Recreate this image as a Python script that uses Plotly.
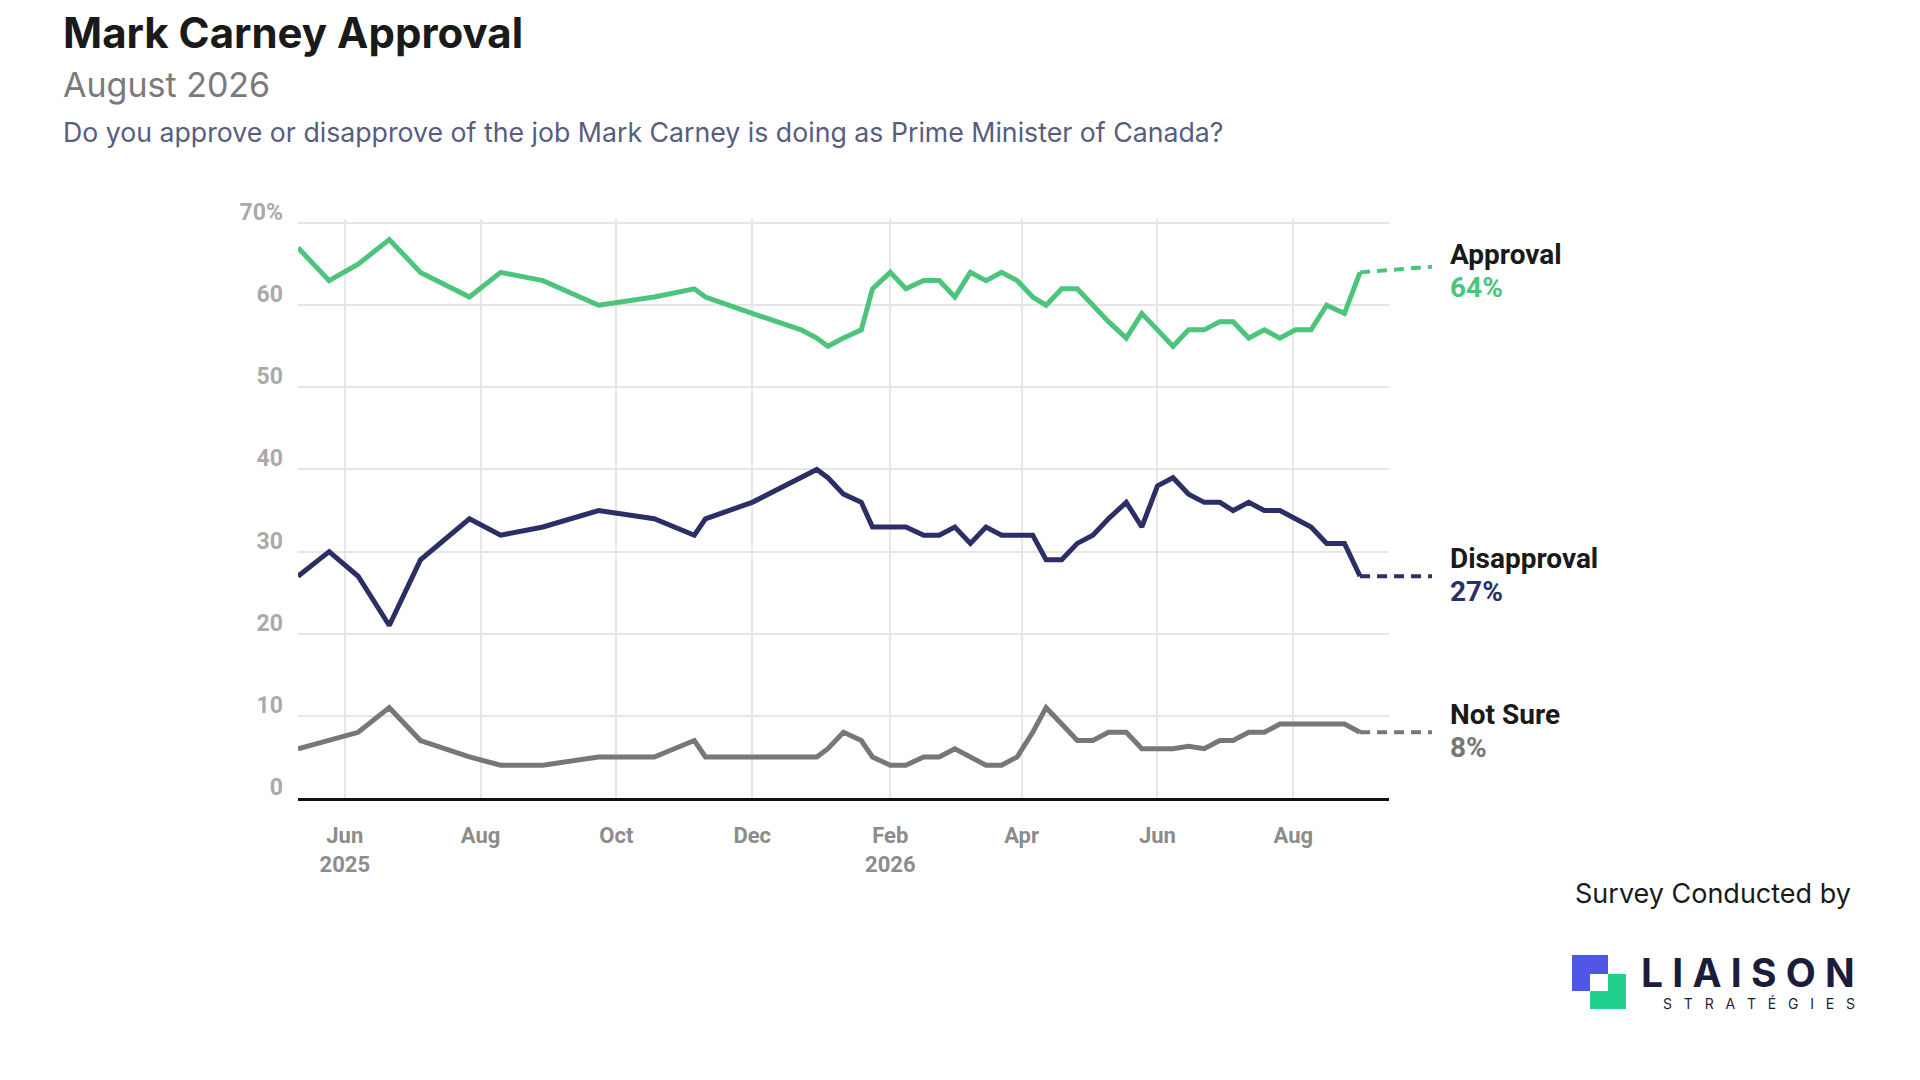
import plotly.graph_objects as go
import pandas as pd

dates = ["2025-05-11","2025-05-25","2025-06-07","2025-06-21","2025-07-05","2025-07-27","2025-08-10","2025-08-29",
         "2025-09-23","2025-10-18","2025-11-05","2025-11-10","2025-12-01","2025-12-23","2025-12-30","2026-01-04",
         "2026-01-11","2026-01-19","2026-01-24","2026-02-01","2026-02-08","2026-02-16","2026-02-23","2026-03-02",
         "2026-03-09","2026-03-16","2026-03-23","2026-03-30","2026-04-06","2026-04-12","2026-04-19","2026-04-26",
         "2026-05-03","2026-05-10","2026-05-18","2026-05-25","2026-06-01","2026-06-08","2026-06-15","2026-06-22",
         "2026-06-29","2026-07-05","2026-07-12","2026-07-19","2026-07-26","2026-08-02","2026-08-09","2026-08-16",
         "2026-08-24","2026-08-31"]
approval = [67,63,65,68,64,61,64,63,60,61,62,61,59,57,56,55,56,57,62,64,62,63,63,61,64,63,64,63,61,60,62,62,
            60,58,56,59,57,55,57,57,58,58,56,57,56,57,57,60,59,64]
disapproval = [27,30,27,21,29,34,32,33,35,34,32,34,36,39,40,39,37,36,33,33,33,32,32,33,31,33,32,32,32,29,29,31,
               32,34,36,33,38,39,37,36,36,35,36,35,35,34,33,31,31,27]
not_sure = [6,7,8,11,7,5,4,4,5,5,7,5,5,5,5,6,8,7,5,4,4,5,5,6,5,4,4,5,8,11,9,7,7,8,8,6,6,6,6.3,6,7,7,8,8,9,9,
            9,9,9,8]
ext_end = [64.7, 27, 8]
tick_dates = ["2025-06-01","2025-08-01","2025-10-01","2025-12-01","2026-02-01","2026-04-01","2026-06-01","2026-08-01"]
tick_text = ["Jun<br>2025","Aug","Oct","Dec","Feb<br>2026","Apr","Jun","Aug"]
y_ticks = [0,10,20,30,40,50,60,70]
y_text = ["0","10","20","30","40","50","60","70%"]
series = [("Approval", approval, "#4cc47c"), ("Disapproval", disapproval, "#2b2f66"), ("Not Sure", not_sure, "#777777")]

W, H = 1920, 1080
L, R, T, B = 290, 1381, 211, 790
EXT = 1424
def px(x): return (x - L) / (EXT - L)
def py(y): return (B - y) / (B - T)

r0 = pd.Timestamp("2025-05-11"); r1 = pd.Timestamp("2026-09-13")
r2 = r0 + (r1 - r0) * ((EXT - L) / (R - L))
YR = [0, 70.5]

fig = go.Figure()
for (name, vals, col), e in zip(series, ext_end):
    fig.add_trace(go.Scatter(x=dates, y=vals, mode="lines", line=dict(color=col, width=5), name=name,
                             hoverinfo="x+y"))
    fig.add_trace(go.Scatter(x=[dates[-1], r2], y=[vals[-1], e], mode="lines", xaxis="x2", yaxis="y2",
                             line=dict(color=col, width=4, dash="10px,7px"), hoverinfo="skip"))
    fig.add_annotation(xref="paper", yref="y", x=px(1440), y=vals[-1] + 2.2, xanchor="left", yanchor="middle",
                       text=f"<b>{name}</b>", showarrow=False, font=dict(size=28, color="#1a1a1a", family="Roboto"))
    fig.add_annotation(xref="paper", yref="y", x=px(1440), y=vals[-1] - 1.8, xanchor="left", yanchor="middle",
                       text=f"<b>{vals[-1]:g}%</b>", showarrow=False, font=dict(size=28, color=col, family="Roboto"))

fig.update_layout(
    width=W, height=H, showlegend=False, plot_bgcolor="rgba(0,0,0,0)", paper_bgcolor="white",
    margin=dict(l=L, r=W - EXT, t=T, b=H - B),
    xaxis=dict(domain=[0, px(R)], range=[r0, r1], tickvals=tick_dates, ticktext=tick_text, showgrid=True,
               gridcolor="#e6e6e6", gridwidth=1.5, showline=True, linecolor="#111", linewidth=2.5, ticks="",
               tickfont=dict(size=22, color="#8c8c8c", family="Roboto", weight="bold"), zeroline=False, ticklabelstandoff=16),
    xaxis2=dict(domain=[0, 1], range=[r0, r2], visible=False, anchor="y2"),
    yaxis=dict(range=YR, tickvals=y_ticks, ticktext=y_text, showgrid=True, gridcolor="#e6e6e6", gridwidth=1.5,
               zeroline=False, tickfont=dict(size=23, color="#aaaaaa", family="Roboto", weight="bold"), ticks="",
               ticklabelstandoff=14, ticklabelposition="outside top", ticklabelshift=5),
    yaxis2=dict(range=YR, overlaying="y", anchor="x2", visible=False, showgrid=False),
)

fig.add_annotation(xref="paper", yref="paper", x=px(53), y=py(25), xanchor="left", yanchor="middle", showarrow=False,
                   text="<b>Mark Carney Approval</b>", font=dict(size=42, color="#1a1a1a", family="Inter"))
fig.add_annotation(xref="paper", yref="paper", x=px(53), y=py(76), xanchor="left", yanchor="middle", showarrow=False,
                   text="August 2026", font=dict(size=34, color="#7a7a7a", family="Inter"))
fig.add_annotation(xref="paper", yref="paper", x=px(53), y=py(124), xanchor="left", yanchor="middle", showarrow=False,
                   text="Do you approve or disapprove of the job Mark Carney is doing as Prime Minister of Canada?",
                   font=dict(size=26.7, color="#585d80", family="Inter"))
fig.add_annotation(xref="paper", yref="paper", x=px(1845), y=py(885), xanchor="right", yanchor="middle", showarrow=False,
                   text="Survey Conducted by", font=dict(size=27, color="#1a1a1a", family="Inter"))
fig.add_annotation(xref="paper", yref="paper", x=px(1849), y=py(964), xanchor="right", yanchor="middle", showarrow=False,
                   text="<b>L I A I S O N</b>", font=dict(size=39, color="#1b1d3a", family="Inter"))
fig.add_annotation(xref="paper", yref="paper", x=px(1849), y=py(995), xanchor="right", yanchor="middle", showarrow=False,
                   text="S   T   R   A   T   É   G   I   E   S", font=dict(size=14, color="#1b1d3a", family="Inter"))
for (x0, y0, x1, y1, c) in [(1564, 947, 1600, 983, "#4f56e8"), (1582, 966, 1618, 1001, "#1fd18a"),
                            (1582, 966, 1600, 983, "#ffffff")]:
    fig.add_shape(type="rect", xref="paper", yref="paper", x0=px(x0), x1=px(x1), y0=py(y1), y1=py(y0),
                  fillcolor=c, line_width=0)

fig.write_html("out.html")
